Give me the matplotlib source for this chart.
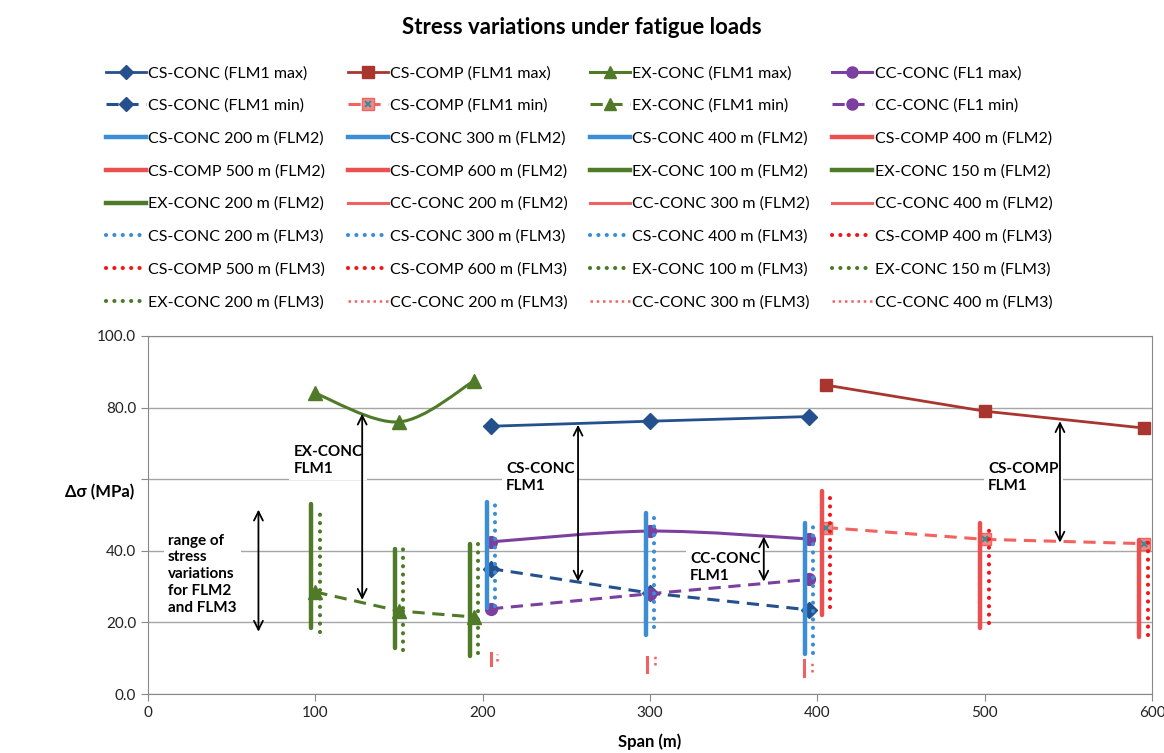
import numpy as np
import matplotlib; matplotlib.use("Agg")
import matplotlib.pyplot as plt
from matplotlib.lines import Line2D
from matplotlib.path import Path
from matplotlib.patches import PathPatch
from matplotlib.legend_handler import HandlerTuple

plt.rcParams['font.family'] = ['Lato', 'DejaVu Sans']

# ---- FLM1 (max / min) series, x = span position on chart ----
cs_x = [205, 300, 395]
comp_x = [405, 500, 595]
ex_x = [100, 150, 195]
cc_x = [205, 300, 395]

cs_max = [74.8, 76.2, 77.5]
cs_min = [35.0, 28.2, 23.5]
comp_max = [86.3, 79.0, 74.3]
comp_min = [46.5, 43.2, 42.0]
ex_max = [84.0, 76.0, 87.5]
ex_min = [28.5, 23.2, 21.5]
cc_max = [42.5, 45.5, 43.3]
cc_min = [23.8, 28.0, 32.0]

# ---- FLM2 / FLM3 ranges (x, low, high) ----
cs2_x, cs2_lo, cs2_hi = [202.5, 297.5, 392.5], [24.0, 16.5, 11.2], [53.5, 50.5, 47.8]
cs3_x, cs3_lo, cs3_hi = [207.5, 302.5, 397.5], [24.5, 18.6, 11.5], [53.5, 50.0, 47.5]
comp2_x, comp2_lo, comp2_hi = [402.5, 497.5, 592.5], [22.2, 18.3, 16.0], [56.8, 47.8, 43.0]
comp3_x, comp3_lo, comp3_hi = [407.5, 502.5, 597.5], [24.4, 19.7, 16.6], [55.8, 47.8, 43.0]
ex2_x, ex2_lo, ex2_hi = [97.5, 147.5, 192.5], [18.5, 12.8, 10.5], [53.0, 40.5, 41.8]
ex3_x, ex3_lo, ex3_hi = [102.5, 152.5, 197.5], [17.2, 12.3, 11.5], [51.0, 40.8, 42.0]
cc2_x, cc2_lo, cc2_hi = [205.0, 298.0, 392.0], [8.0, 6.1, 5.0], [11.5, 10.3, 9.5]
cc3_x, cc3_lo, cc3_hi = [208.5, 303.0, 397.0], [9.3, 8.1, 6.1], [11.2, 10.9, 9.5]

# ---- annotations: (x, y_top, y_bottom) and labels ----
arrows = [(128, 78.3, 26.3), (257, 75.2, 31.4), (368, 44.0, 31.4),
          (545, 76.2, 42.3), (66, 51.5, 17.4)]
labels = [(87, 65.2, "EX-CONC\nFLM1"), (214, 60.5, "CS-CONC\nFLM1"),
          (324, 35.4, "CC-CONC\nFLM1"), (502, 60.5, "CS-COMP\nFLM1"),
          (12, 33.5, "range of\nstress\nvariations\nfor FLM2\nand FLM3")]

C_CS, C_COMP, C_EX, C_CC = "#24508E", "#A8362F", "#4F7A28", "#7B3FA0"
C_BLUE, C_RED2, C_RED3, C_CC2, C_MIN = "#3B8ED6", "#EC4F4F", "#F01818", "#F06262", "#F2625E"

DOT = dict(ls=(0, (0.01, 2.0)), lw=3.0, dash_capstyle="round")
SMALLDOT = dict(ls=(0, (1, 1.5)), lw=1.8)


def smooth_path(xs, ys):
    # Excel-like smoothed line (Bezier through the points)
    pts = np.column_stack([xs, ys]).astype(float)
    n = len(pts)
    verts, codes = [pts[0]], [Path.MOVETO]
    for i in range(n - 1):
        p0, p1 = pts[max(i - 1, 0)], pts[i]
        p2, p3 = pts[i + 1], pts[min(i + 2, n - 1)]
        verts += [p1 + (p2 - p0) / 6, p2 - (p3 - p1) / 6, p2]
        codes += [Path.CURVE4] * 3
    return Path(verts, codes)


fig = plt.figure(figsize=(11.64, 7.53), dpi=100)
ax = fig.add_axes([148 / 1164, 59 / 753, 1004 / 1164, 358 / 753])

# FLM1 lines
ax.plot(cs_x, cs_max, color=C_CS, lw=2, marker="D", ms=8, zorder=2)
ax.plot(cs_x, cs_min, color=C_CS, lw=2.2, ls=(0, (4, 2.5)), marker="D", ms=8, zorder=2)
ax.plot(comp_x, comp_max, color=C_COMP, lw=2, marker="s", ms=8.5, zorder=2)
ax.plot(comp_x, comp_min, color=C_MIN, lw=2.2, ls=(0, (4, 2.5)), marker="s", ms=8,
        mfc="#F08A84", mec=C_MIN, zorder=2)
ax.plot(comp_x, comp_min, ls="none", marker="x", ms=5, mew=1.5, color="#3A8C9A", zorder=2)
ax.add_patch(PathPatch(smooth_path(ex_x, ex_max), fill=False, ec=C_EX, lw=2.2, zorder=2))
ax.plot(ex_x, ex_max, ls="none", color=C_EX, marker="^", ms=10, zorder=2)
ax.plot(ex_x, ex_min, color=C_EX, lw=2.2, ls=(0, (4, 2.5)), marker="^", ms=10, zorder=2)
ax.add_patch(PathPatch(smooth_path(cc_x, cc_max), fill=False, ec=C_CC, lw=2.2, zorder=2))
ax.plot(cc_x, cc_max, ls="none", color=C_CC, marker="o", ms=8.5, zorder=2)
ax.plot(cc_x, cc_min, color=C_CC, lw=2.2, ls=(0, (4, 2.5)), marker="o", ms=8.5, zorder=2)

# FLM2 / FLM3 ranges
def bars(xs, lo, hi, color, **kw):
    for x, a, b in zip(xs, lo, hi):
        ax.plot([x, x], [a, b], color=color, zorder=3, **kw)

bars(cs2_x, cs2_lo, cs2_hi, C_BLUE, lw=3.2, solid_capstyle="round")
bars(cs3_x, cs3_lo, cs3_hi, C_BLUE, **DOT)
bars(comp2_x, comp2_lo, comp2_hi, C_RED2, lw=3.2, solid_capstyle="round")
bars(comp3_x, comp3_lo, comp3_hi, C_RED3, **DOT)
bars(ex2_x, ex2_lo, ex2_hi, C_EX, lw=3.2, solid_capstyle="round")
bars(ex3_x, ex3_lo, ex3_hi, C_EX, **DOT)
bars(cc2_x, cc2_lo, cc2_hi, C_CC2, lw=2.2)
bars(cc3_x, cc3_lo, cc3_hi, C_CC2, **SMALLDOT)

for x, a, b in arrows:
    ax.annotate("", xy=(x, b), xytext=(x, a), zorder=6,
                arrowprops=dict(arrowstyle="<->", lw=1.3, color="black",
                                mutation_scale=16, shrinkA=0, shrinkB=0))
for x, y, t in labels:
    ax.text(x, y, t, fontsize=11, fontweight="bold", ha="left", va="center",
            linespacing=1.25, zorder=1,
            bbox=dict(facecolor="white", edgecolor="none", pad=3))

ax.set_xlim(0, 600)
ax.set_ylim(0, 100)
ax.set_xticks(np.arange(0, 601, 100))
ax.set_yticks(np.arange(0, 101, 20))
# the 60.0 label sits under the axis title in the original
ax.set_yticklabels(["" if v == 60 else f"{v:.1f}" for v in np.arange(0, 101, 20)])
ax.tick_params(labelsize=11, length=5, color="#888888", labelcolor="#222222")
ax.set_axisbelow(True)
ax.yaxis.grid(True, color="#A6A6A6", lw=1)
for s in ax.spines.values():
    s.set_color("#888888")

fig.text(0.5, 1 - 27 / 753, "Stress variations under fatigue loads",
         ha="center", va="center", fontsize=16, fontweight="bold")
fig.text(100 / 1164, 1 - 492 / 753, "\u0394\u03c3 (MPa)", ha="center", va="center",
         fontsize=12, fontweight="bold")
fig.text(650 / 1164, 1 - 742 / 753, "Span (m)", ha="center", va="center",
         fontsize=12, fontweight="bold")

# legend (row-major order, 4 columns)
L = lambda c, **kw: Line2D([], [], color=c, **kw)
dash = (0, (4, 2.5))
entries = [
    (L(C_CS, lw=2, marker="D", ms=7), "CS-CONC (FLM1 max)"),
    (L(C_COMP, lw=2, marker="s", ms=8), "CS-COMP (FLM1 max)"),
    (L(C_EX, lw=2.2, marker="^", ms=9), "EX-CONC (FLM1 max)"),
    (L(C_CC, lw=2.2, marker="o", ms=8), "CC-CONC (FL1 max)"),
    (L(C_CS, lw=2.2, ls=dash, marker="D", ms=7), "CS-CONC (FLM1 min)"),
    ((L(C_MIN, lw=2.2, ls=dash, marker="s", ms=8, mfc="#F08A84", mec=C_MIN),
      L("#3A8C9A", ls="none", marker="x", ms=5, mew=1.5)), "CS-COMP (FLM1 min)"),
    (L(C_EX, lw=2.2, ls=dash, marker="^", ms=9), "EX-CONC (FLM1 min)"),
    (L(C_CC, lw=2.2, ls=dash, marker="o", ms=8), "CC-CONC (FL1 min)"),
]
flm2 = [(C_BLUE, "CS-CONC 200 m"), (C_BLUE, "CS-CONC 300 m"), (C_BLUE, "CS-CONC 400 m"),
        (C_RED2, "CS-COMP 400 m"), (C_RED2, "CS-COMP 500 m"), (C_RED2, "CS-COMP 600 m"),
        (C_EX, "EX-CONC 100 m"), (C_EX, "EX-CONC 150 m"), (C_EX, "EX-CONC 200 m"),
        ("CC", "CC-CONC 200 m"), ("CC", "CC-CONC 300 m"), ("CC", "CC-CONC 400 m")]
for c, name in flm2:
    h = L(C_CC2, lw=2.2) if c == "CC" else L(c, lw=3.2)
    entries.append((h, name + " (FLM2)"))
for c, name in flm2:
    if c == "CC":
        h = L(C_CC2, **SMALLDOT)
    else:
        h = L(C_RED3 if c == C_RED2 else c, **DOT)
    entries.append((h, name + " (FLM3)"))

ncol, nrow = 4, len(entries) // 4
ordered = [entries[r * ncol + c] for c in range(ncol) for r in range(nrow)]
fig.legend([e[0] for e in ordered], [e[1] for e in ordered], ncol=ncol,
           loc="upper left", bbox_to_anchor=(106 / 1164, 1 - 66 / 753),
           frameon=False, fontsize=11.5, handlelength=2.5, handletextpad=0.15,
           columnspacing=1.4, labelspacing=1.15, borderpad=0, borderaxespad=0,
           handler_map={tuple: HandlerTuple(ndivide=1)})

fig.savefig("out.png", dpi=100)
